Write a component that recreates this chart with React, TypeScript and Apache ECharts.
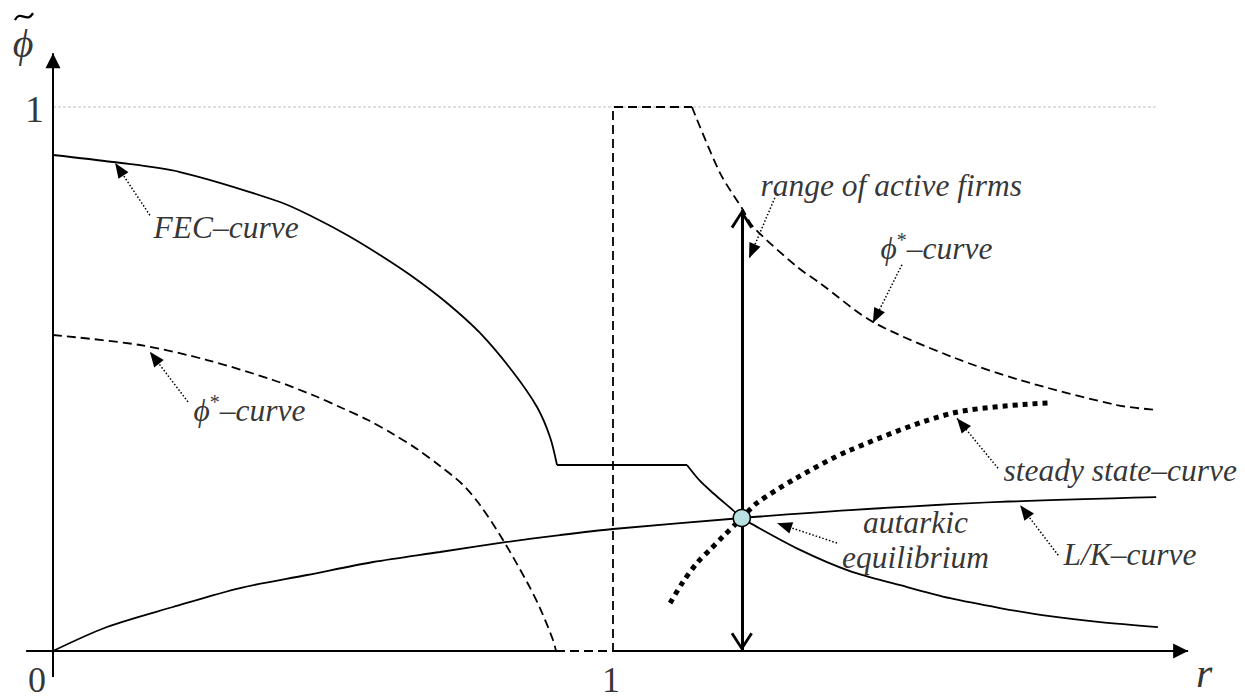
import React, { useEffect, useRef } from 'react';
import * as echarts from 'echarts';

type P = [number, number];

// ---- curve values (r on x, phi-tilde on y) ----
const fecLeft: P[] = [
  [0, 0.9118], [0.1071, 0.8989], [0.2268, 0.8805], [0.4054, 0.8254], [0.4643, 0.7978], [0.525, 0.7647],
  [0.5839, 0.7279], [0.6429, 0.6875], [0.7036, 0.6397], [0.7625, 0.5846], [0.8214, 0.5129],
  [0.8643, 0.4485], [0.8875, 0.3934], [0.9, 0.3419],
];
const fecFlat: P[] = [[0.9, 0.3419], [1.1321, 0.3419]];
const fecRight: P[] = [
  [1.1321, 0.3419], [1.155, 0.313], [1.179, 0.29], [1.214, 0.259], [1.23, 0.2445], [1.245, 0.235],
  [1.334, 0.186], [1.423, 0.147], [1.513, 0.121], [1.602, 0.097], [1.691, 0.079], [1.78, 0.064],
  [1.87, 0.053], [1.973, 0.044],
];
const phiLeft: P[] = [
  [0, 0.5809], [0.1554, 0.5625], [0.275, 0.5349], [0.3929, 0.4982], [0.4679, 0.4688], [0.5161, 0.4467],
  [0.5625, 0.4246], [0.6071, 0.3989], [0.65, 0.3713], [0.6911, 0.3401], [0.7304, 0.307], [0.7625, 0.2684],
  [0.8036, 0.204], [0.8464, 0.1268], [0.8696, 0.079], [0.8929, 0.0202], [0.8982, 0],
];
const phiBox: P[] = [[0.8982, 0], [1, 0], [1, 1], [1.141, 1]];
const phiRight: P[] = [
  [1.141, 1], [1.191, 0.879], [1.232, 0.811], [1.25, 0.78], [1.329, 0.706], [1.37, 0.676],
  [1.464, 0.605], [1.607, 0.54], [1.727, 0.498], [1.9, 0.452], [1.973, 0.443],
];
const lkCurve: P[] = [
  [0, 0], [0.0964, 0.0441], [0.2143, 0.0809], [0.3339, 0.1158], [0.4536, 0.1397], [0.5714, 0.1636],
  [0.6911, 0.182], [0.8107, 0.2004], [0.9054, 0.2132], [1, 0.2243], [1.23, 0.2445], [1.423, 0.259],
  [1.691, 0.274], [1.97, 0.283],
];
const steadyState: P[] = [
  [1.102, 0.088], [1.125, 0.127], [1.15, 0.162], [1.173, 0.186], [1.196, 0.21], [1.23, 0.2445],
  [1.257, 0.272], [1.321, 0.314], [1.423, 0.369], [1.607, 0.4375], [1.777, 0.456],
];
const equilibrium: P = [1.23, 0.2445];
const activeRange: P = [0, 0.811];
const upperLimit = 1;
const upperLimitEnd = 1.969;
const xAxisRange: P = [-0.048, 2.027];
const yAxisRange: P = [-0.048, 1.099];

// ---- annotation texts and their dotted pointers ----
const annotationTexts = ['FEC–curve', 'ϕ*–curve', 'range of active firms', 'ϕ*–curve', 'steady state–curve', 'L/K–curve'];
const annotationAnchors: P[] = [[0.1786, 0.7794], [0.25, 0.443], [1.2625, 0.8566], [1.4768, 0.7408], [1.6964, 0.3327], [1.8036, 0.1765]];
const pointerFrom: P[] = [[0.173, 0.801], [0.241, 0.458], [1.289, 0.833], [1.516, 0.71], [1.6875, 0.336], [1.4, 0.1985], [1.795, 0.176]];
const pointerTo: P[] = [[0.111, 0.897], [0.173, 0.55], [1.243, 0.722], [1.464, 0.603], [1.614, 0.428], [1.293, 0.235], [1.727, 0.268]];
const pointerBend = [0.45, 0.45, 0.3, 0.3, 0.45, 0.15, 0.45];
const eqLabel = 'autarkic\nequilibrium';
const eqLabelAnchor: P = [1.54, 0.204];
const xTickLabels = ['0', '1'];
const xTickValues = [0, 1];
const yTickLabels = ['1'];
const yTickValues = [1];
const xAxisName = 'r';
const yAxisName = 'ϕ';

const FONT = "'Liberation Serif', 'Times New Roman', Times, serif";
const TEXT_SIZE = 31.5;
const BLACK = '#000';
const CHEVRON = 'path://M0,0 L11,17 L8.6,18.6 L0,5 L-8.6,18.6 L-11,17 Z';

export default function App() {
  const ref = useRef<HTMLDivElement>(null);
  useEffect(() => {
    document.body.style.margin = '0';
    if (!ref.current) return;
    const chart = echarts.init(ref.current, null, { renderer: 'svg' });

    const curve = (name: string, data: P[], lineStyle: any, smooth: number | boolean = 0.3) => ({
      name, type: 'line', data, smooth, showSymbol: false, symbol: 'none', silent: true,
      lineStyle: { color: BLACK, cap: 'butt', ...lineStyle }, z: 3,
    });
    const solid = { width: 1.8, type: 'solid' };
    const dashed = { width: 1.8, type: [9, 5] };

    const digit = { position: 'inside', fontStyle: 'normal', fontSize: 36, lineHeight: 28 };
    const textItems: any[] = [];
    annotationTexts.forEach((t, i) => {
      textItems.push({ name: t, value: annotationAnchors[i], label: { position: 'right', distance: 0 } });
    });
    textItems.push({ name: eqLabel, value: eqLabelAnchor, label: { position: 'inside', align: 'center', lineHeight: 35.5 } });
    // tick labels and axis names, tied to axis values
    xTickValues.forEach((v, i) => {
      textItems.push({ name: xTickLabels[i], value: [v, 0], label: { ...digit, offset: v === 0 ? [-16, 29] : [-2, 29] } });
    });
    yTickValues.forEach((v, i) => {
      textItems.push({ name: yTickLabels[i], value: [0, v], label: { ...digit, fontSize: 38, offset: [-18.5, 2] } });
    });
    textItems.push({ name: xAxisName, value: [xAxisRange[1], 0], label: { position: 'inside', fontSize: 42, lineHeight: 30, offset: [16, 22] } });
    textItems.push({
      name: yAxisName, value: [0, yAxisRange[1]],
      label: { position: 'inside', align: 'center', fontSize: 40, lineHeight: 44, offset: [-30, -10] },
    });

    const option: any = {
      animation: false,
      backgroundColor: '#fff',
      grid: { left: 0, right: 0, top: 0, bottom: 0, containLabel: false, outerBoundsMode: 'none' },
      xAxis: {
        type: 'value', min: -53 / 560, max: 1192 / 560,
        axisLine: { show: false }, axisTick: { show: false }, axisLabel: { show: false }, splitLine: { show: false },
      },
      yAxis: {
        type: 'value', min: -49 / 544, max: 651 / 544,
        axisLine: { show: false }, axisTick: { show: false }, axisLabel: { show: false }, splitLine: { show: false },
      },
      series: [
        curve('upper limit', [[0, upperLimit], [upperLimitEnd, upperLimit]], { color: '#bdbdbd', width: 1, type: [3, 2] }, false),
        {
          name: 'axes', type: 'line', data: [[0, 0]], showSymbol: false, symbol: 'none', silent: true,
          lineStyle: { width: 0 },
          markLine: {
            silent: true, animation: false, label: { show: false }, emphasis: { disabled: true },
            lineStyle: { color: BLACK, width: 2, type: 'solid' },
            data: [
              [{ coord: [xAxisRange[0], 0], symbol: 'none' }, { coord: [phiBox[0][0], 0], symbol: 'none' }],
              [{ coord: [phiBox[1][0], 0], symbol: 'none' }, { coord: [xAxisRange[1], 0], symbol: 'triangle', symbolSize: [15, 15], symbolOffset: [0, 7.5] }],
              [{ coord: [0, yAxisRange[0]], symbol: 'none' }, { coord: [0, yAxisRange[1]], symbol: 'triangle', symbolSize: [15, 15], symbolOffset: [0, 7.5] }],
            ],
          },
        },
        curve('FEC-curve', fecLeft, solid),
        curve('FEC-curve flat', fecFlat, solid, false),
        curve('FEC-curve right', fecRight, solid),
        curve('phi*-curve left', phiLeft, dashed),
        curve('phi*-curve box', phiBox, dashed, false),
        curve('phi*-curve right', phiRight, dashed),
        curve('L/K-curve', lkCurve, solid),
        curve('steady state-curve', steadyState, { width: 5, type: [5, 5] }),
        {
          name: 'range of active firms', type: 'line', data: [[equilibrium[0], activeRange[0]]], showSymbol: false, symbol: 'none', silent: true,
          lineStyle: { width: 0 }, z: 4,
          markLine: {
            silent: true, animation: false, label: { show: false }, emphasis: { disabled: true },
            lineStyle: { color: BLACK, width: 3, type: 'solid' },
            data: [[
              { coord: [equilibrium[0], activeRange[0]], symbol: CHEVRON, symbolSize: [22, 18.6], symbolOffset: [0, 9.3] },
              { coord: [equilibrium[0], activeRange[1]], symbol: CHEVRON, symbolSize: [22, 18.6], symbolOffset: [0, 9.3] },
            ]],
          },
        },
        {
          name: 'pointers', type: 'line', data: [[0, 0]], showSymbol: false, symbol: 'none', silent: true,
          lineStyle: { width: 0 }, z: 4,
          markLine: {
            silent: true, animation: false, label: { show: false }, emphasis: { disabled: true },
            data: pointerFrom.map((f, i) => [
              { coord: f, symbol: 'none', lineStyle: { color: BLACK, width: 1.5, type: [1.5, 2], curveness: pointerBend[i] } },
              { coord: pointerTo[i], symbol: 'triangle', symbolSize: [12, 15], symbolOffset: [0, 7.5] },
            ]),
          },
        },
        {
          name: 'autarkic equilibrium', type: 'scatter', data: [equilibrium], symbol: 'circle', symbolSize: 17, silent: true,
          itemStyle: { color: '#b9e0e3', borderColor: BLACK, borderWidth: 1.5, opacity: 1 }, z: 6,
        },
        {
          name: 'texts', type: 'scatter', data: textItems, symbolSize: 1, silent: true, z: 7,
          itemStyle: { color: 'rgba(0,0,0,0)' },
          label: {
            show: true, color: BLACK, fontFamily: FONT, fontStyle: 'italic', fontSize: TEXT_SIZE, verticalAlign: 'middle',
            formatter: (p: any) => p.name.startsWith('ϕ*') && p.name.length > 2
              ? '{it|ϕ}{sup|*}{it|' + p.name.slice(2) + '}'
              : p.name,
            rich: {
              it: { fontFamily: FONT, fontStyle: 'italic', fontSize: TEXT_SIZE, color: BLACK, lineHeight: 36 },
              sup: { fontFamily: FONT, fontStyle: 'normal', fontSize: 20, color: BLACK, verticalAlign: 'top', lineHeight: 36 },
            },
          },
        },
      ],
    };
    chart.setOption(option);

    // tilde accent over the y-axis name, placed relative to the axis top
    const top = chart.convertToPixel({ gridIndex: 0 }, [0, yAxisRange[1]]) as number[];
    const ox = top[0];
    const oy = top[1];
    chart.setOption({
      graphic: [{
        type: 'bezierCurve', silent: true, z: 10,
        shape: {
          x1: ox - 38, y1: oy - 33,
          cpx1: ox - 33, cpy1: oy - 44,
          cpx2: ox - 26, cpy2: oy - 29,
          x2: ox - 20, y2: oy - 40,
        },
        style: { stroke: BLACK, lineWidth: 2.2, fill: null },
      }],
    });
    return () => chart.dispose();
  }, []);
  return <div ref={ref} style={{ width: 1245, height: 700, position: 'absolute', left: 0, top: 0, background: '#fff' }} />;
}
